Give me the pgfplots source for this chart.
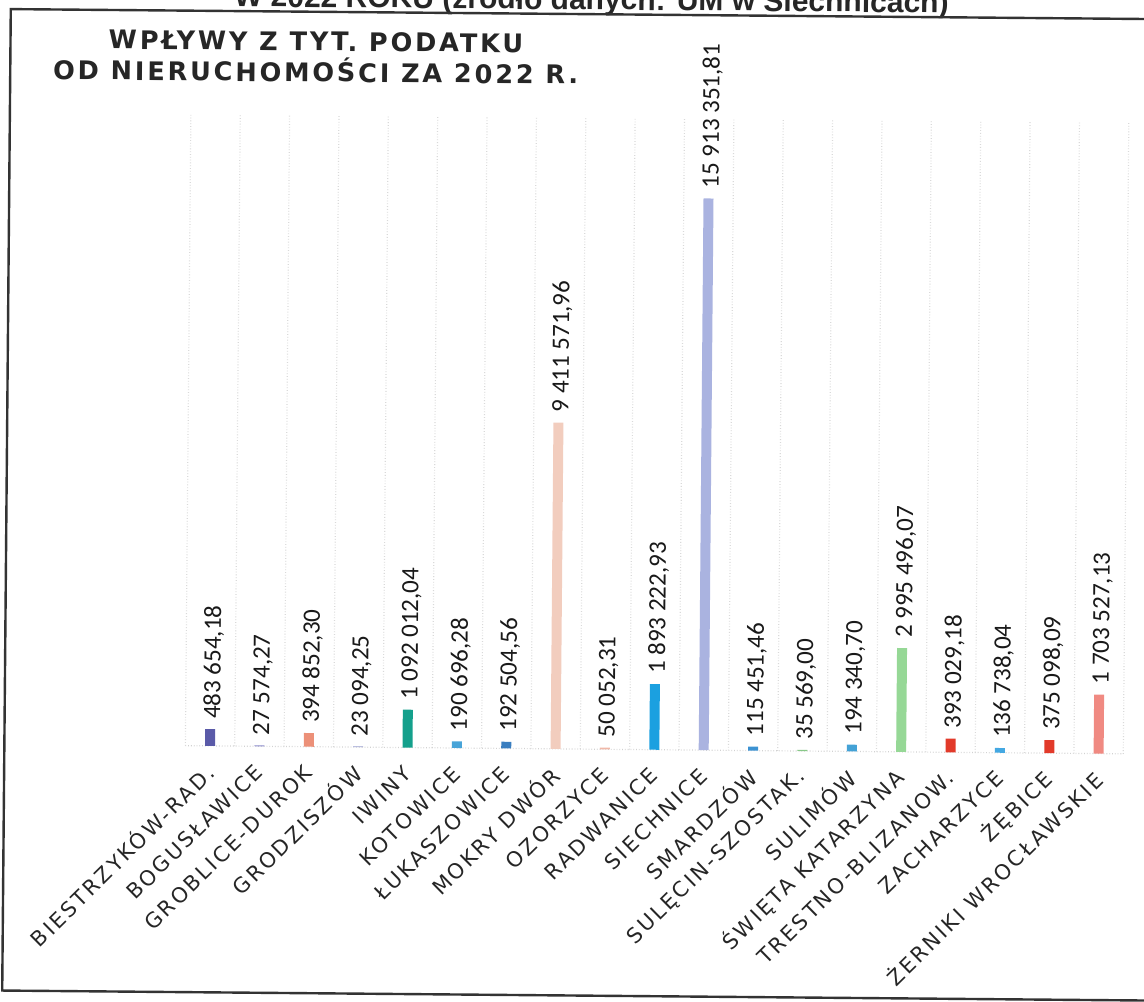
\documentclass[border=0pt]{standalone}
\usepackage{fontspec}
\usepackage{pgfplots}
\pgfplotsset{compat=1.18}
\newfontfamily\tickfont[LetterSpace=12]{DejaVu Sans}
\newfontfamily\titlefont[LetterSpace=11]{DejaVu Sans}
\newfontfamily\valfont{Carlito}
\newfontfamily\headfont{Liberation Sans}
\definecolor{c0}{HTML}{5A5AA8}
\definecolor{c1}{HTML}{8C8CCC}
\definecolor{c2}{HTML}{EC9078}
\definecolor{c3}{HTML}{9AA0D0}
\definecolor{c4}{HTML}{14A08C}
\definecolor{c5}{HTML}{48A4D8}
\definecolor{c6}{HTML}{3A7EC0}
\definecolor{c7}{HTML}{F2CDBE}
\definecolor{c8}{HTML}{F0B8A8}
\definecolor{c9}{HTML}{1BA0E0}
\definecolor{c10}{HTML}{AAB3E0}
\definecolor{c11}{HTML}{3C92D2}
\definecolor{c12}{HTML}{88C888}
\definecolor{c13}{HTML}{44A2D6}
\definecolor{c14}{HTML}{96D896}
\definecolor{c15}{HTML}{E23A2A}
\definecolor{c16}{HTML}{44A8E2}
\definecolor{c17}{HTML}{E23A2A}
\definecolor{c18}{HTML}{F08A82}
\begin{document}
\begin{tikzpicture}
\useasboundingbox (0pt,0pt) rectangle (572pt,-500.5pt);
\begin{scope}[transform canvas={rotate around={-0.5:(286pt,-250pt)}}]
% header (cut off at top)
\node[anchor=base, inner sep=0pt, text=black!85] at (293.5pt,-4.75pt)
  {\headfont\bfseries\fontsize{15}{18}\selectfont W 2022 ROKU (źródło danych: UM w Siechnicach)};
% frame
\draw[line width=1.2pt, black!80] (580pt,-7pt) -- (3.25pt,-7pt) -- (3.25pt,-497.75pt) -- (580pt,-497.75pt);
% title
\node[anchor=base, inner sep=0pt, text=black!85] at (156pt,-26.5pt)
  {\titlefont\bfseries\fontsize{12.8}{14}\selectfont WPŁYWY Z TYT. PODATKU};
\node[anchor=base, inner sep=0pt, text=black!85] at (156pt,-42pt)
  {\titlefont\bfseries\fontsize{12.8}{14}\selectfont OD NIERUCHOMOŚCI ZA 2022 R.};
\begin{axis}[
  at={(93.75pt,-374.5pt)}, anchor=south west,
  scale only axis, width=469pt, height=315.5pt,
  xmin=-0.5, xmax=18.5, ymin=0, ymax=18.2e6,
  ybar, bar width=5pt,
  axis line style={draw=none},
  xtick={0,...,18},
  xticklabels={BIESTRZYKÓW-RAD.,BOGUSŁAWICE,GROBLICE-DUROK,GRODZISZÓW,IWINY,KOTOWICE,ŁUKASZOWICE,MOKRY DWÓR,OZORZYCE,RADWANICE,SIECHNICE,SMARDZÓW,SULĘCIN-SZOSTAK.,SULIMÓW,ŚWIĘTA KATARZYNA,TRESTNO-BLIZANOW.,ZACHARZYCE,ŻĘBICE,ŻERNIKI WROCŁAWSKIE},
  minor xtick={-0.5,0.5,...,18.5},
  xminorgrids,
  minor grid style={densely dotted, black!15, line width=0.6pt},
  ytick=\empty,
  extra y ticks={0}, extra y tick labels={},
  extra y tick style={grid=major, major grid style={densely dotted, black!18, line width=0.6pt}},
  major tick length=0pt, minor tick length=0pt,
  xticklabel style={font=\tickfont\fontsize{10.5}{12}\selectfont, text=black!85, yshift=-11pt, rotate=45, anchor=east, inner sep=0pt},
  nodes near coords, point meta=explicit symbolic,
  every node near coord/.append style={font=\valfont\fontsize{12.5}{14}\selectfont, text=black!90, xshift=1.5pt, rotate=90, anchor=west, inner sep=0pt, inner xsep=5pt},
  clip=false,
]
\addplot[fill=c0, draw=none, bar shift=0pt] coordinates {(0,483654.18) [483 654,18]};
\addplot[fill=c1, draw=none, bar shift=0pt] coordinates {(1,27574.27) [27 574,27]};
\addplot[fill=c2, draw=none, bar shift=0pt] coordinates {(2,394852.30) [394 852,30]};
\addplot[fill=c3, draw=none, bar shift=0pt] coordinates {(3,23094.25) [23 094,25]};
\addplot[fill=c4, draw=none, bar shift=0pt] coordinates {(4,1092012.04) [1 092 012,04]};
\addplot[fill=c5, draw=none, bar shift=0pt] coordinates {(5,190696.28) [190 696,28]};
\addplot[fill=c6, draw=none, bar shift=0pt] coordinates {(6,192504.56) [192 504,56]};
\addplot[fill=c7, draw=none, bar shift=0pt] coordinates {(7,9411571.96) [9 411 571,96]};
\addplot[fill=c8, draw=none, bar shift=0pt] coordinates {(8,50052.31) [50 052,31]};
\addplot[fill=c9, draw=none, bar shift=0pt] coordinates {(9,1893222.93) [1 893 222,93]};
\addplot[fill=c10, draw=none, bar shift=0pt] coordinates {(10,15913351.81) [15 913 351,81]};
\addplot[fill=c11, draw=none, bar shift=0pt] coordinates {(11,115451.46) [115 451,46]};
\addplot[fill=c12, draw=none, bar shift=0pt] coordinates {(12,35569.00) [35 569,00]};
\addplot[fill=c13, draw=none, bar shift=0pt] coordinates {(13,194340.70) [194 340,70]};
\addplot[fill=c14, draw=none, bar shift=0pt] coordinates {(14,2995496.07) [2 995 496,07]};
\addplot[fill=c15, draw=none, bar shift=0pt] coordinates {(15,393029.18) [393 029,18]};
\addplot[fill=c16, draw=none, bar shift=0pt] coordinates {(16,136738.04) [136 738,04]};
\addplot[fill=c17, draw=none, bar shift=0pt] coordinates {(17,375098.09) [375 098,09]};
\addplot[fill=c18, draw=none, bar shift=0pt] coordinates {(18,1703527.13) [1 703 527,13]};
\end{axis}
\end{scope}
\end{tikzpicture}
\end{document}
